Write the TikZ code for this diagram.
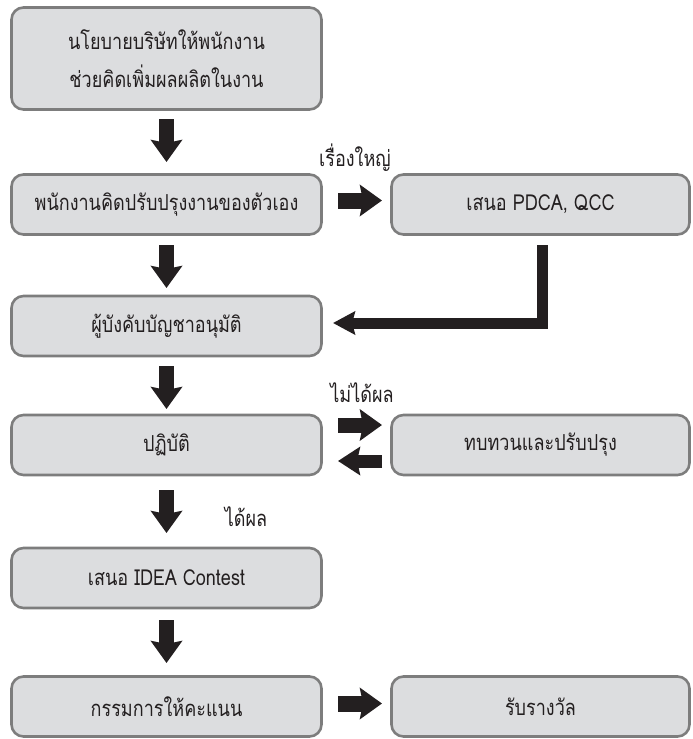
\documentclass[tikz,border=0pt]{standalone}
\usepackage{fontspec}
\setmainfont[Script=Thai, FakeStretch=0.82]{Loma}
\usetikzlibrary{arrows.meta}
\definecolor{boxfill}{HTML}{DCDDDF}
\definecolor{boxline}{HTML}{7D7D7D}
\definecolor{ink}{HTML}{231F20}

\begin{document}
\begin{tikzpicture}[x=1pt, y=-1pt,
  box/.style={draw=boxline, fill=boxfill, line width=2.6pt, rounded corners=12pt,
    minimum height=60pt, inner sep=0pt, outer sep=0pt, text=ink, align=center,
    font=\fontsize{22}{38}\selectfont},
  leftbox/.style={box, minimum width=310pt},
  rightbox/.style={box, minimum width=298pt},
  lbl/.style={text=ink, inner sep=0pt, font=\fontsize{22}{26}\selectfont},
  downarrow/.style={draw=ink, line width=15pt,
    -{Stealth[length=22pt, width=31pt, inset=3pt]}},
  sidearrow/.style={draw=ink, line width=16pt,
    -{Stealth[length=22pt, width=31pt, inset=3pt]}},
  backarrow/.style={draw=ink, line width=13pt,
    -{Stealth[length=22pt, width=28pt, inset=3pt]}},
  elbowarrow/.style={draw=ink, line width=11pt, line join=miter,
    -{Stealth[length=22pt, width=23pt, inset=3pt]}}
]
\useasboundingbox (0,0) rectangle (693,739);

% left column
\node[leftbox, minimum height=102pt] (b1) at (166.5,58.5)
  {นโยบายบริษัทให้พนักงาน\\ช่วยคิดเพิ่มผลผลิตในงาน};
\node[leftbox] (b2) at (166.5,204.5) {พนักงานคิดปรับปรุงงานของตัวเอง};
\node[leftbox] (b4) at (166.5,326) {ผู้บังคับบัญชาอนุมัติ};
\node[leftbox] (b5) at (166.5,445) {ปฏิบัติ};
\node[leftbox] (b7) at (166.5,578) {เสนอ IDEA Contest};
\node[leftbox] (b8) at (166.5,706.5) {กรรมการให้คะแนน};

% right column
\node[rightbox] (b3) at (540.5,204.5) {เสนอ PDCA, QCC};
\node[rightbox] (b6) at (540.5,445) {ทบทวนและปรับปรุง};
\node[rightbox] (b9) at (540.5,706.5) {รับรางวัล};

% main flow
\draw[downarrow, shorten <=9.5pt, shorten >=12.5pt] (b1.south) -- (b2.north);
\draw[downarrow, shorten <=10.5pt, shorten >=8pt] (b2.south) -- (b4.north);
\draw[downarrow, shorten <=10pt, shorten >=6pt] (b4.south) -- (b5.north);
\draw[downarrow, shorten <=15pt, shorten >=15pt] (b5.south) -- (b7.north);
\draw[downarrow, shorten <=12pt, shorten >=13.5pt] (b7.south) -- (b8.north);

% side branches
\draw[sidearrow, shorten <=16.5pt, shorten >=9.5pt]
  ([yshift=4pt]b2.east) -- ([yshift=4pt]b3.west);
\draw[elbowarrow, shorten <=10.5pt, shorten >=11.5pt]
  ([xshift=2pt]b3.south) |- ([yshift=3pt]b4.east);
\draw[sidearrow, line width=15pt, shorten <=16.5pt, shorten >=9.5pt]
  ([yshift=20pt]b5.east) -- ([yshift=20pt]b6.west);
\draw[backarrow, shorten <=9.5pt, shorten >=16.5pt]
  ([yshift=-16pt]b6.west) -- ([yshift=-16pt]b5.east);
\draw[sidearrow, shorten <=16.5pt, shorten >=9.5pt]
  ([yshift=3pt]b8.east) -- ([yshift=3pt]b9.west);

% branch labels
\node[lbl] (big) at (355,158) {เรื่องใหญ่};
\node[lbl] (fail) at (362,393) {ไม่ได้ผล};
\node[lbl] (pass) at (246,517) {ได้ผล};
\end{tikzpicture}
\end{document}
